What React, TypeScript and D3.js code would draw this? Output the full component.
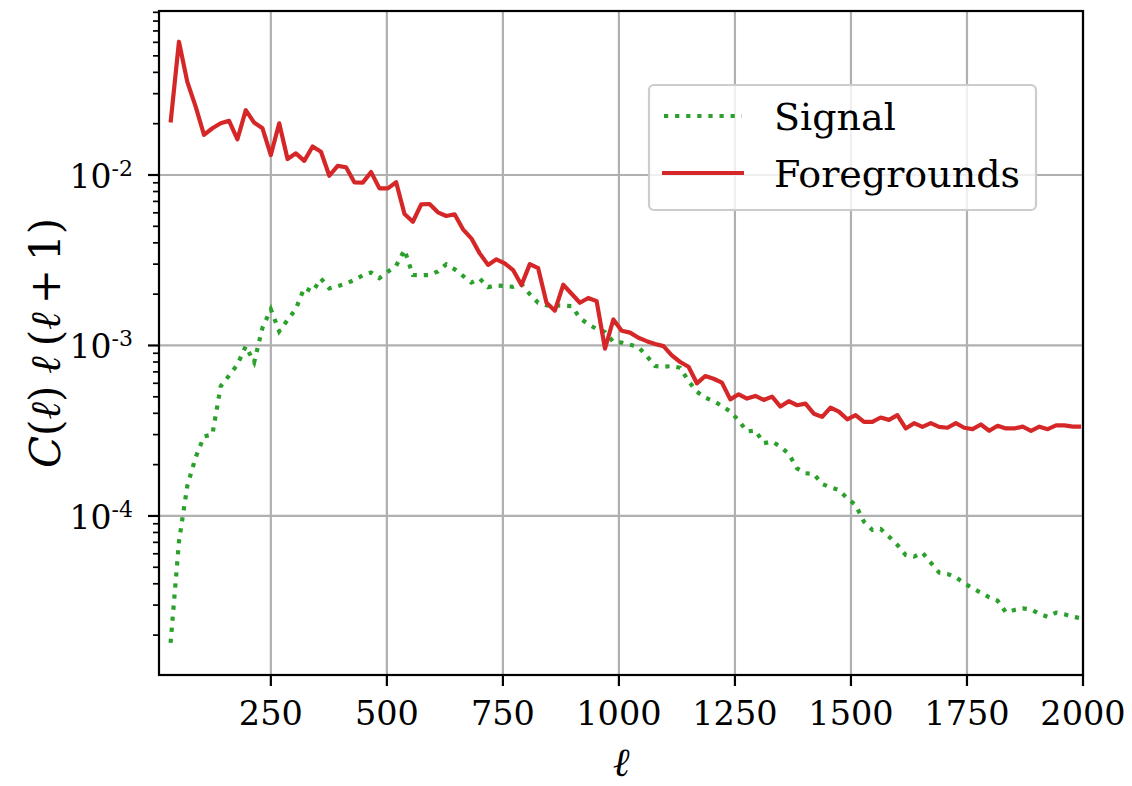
import React from 'react';
import * as d3 from 'd3';

// multipole bins (bin centres)
const ells = [
  34, 52, 70, 88, 106, 124, 142, 160, 178, 196, 214, 232, 250, 268, 286, 304, 322, 340, 358, 376,
  394, 412, 430, 448, 466, 484, 502, 520, 538, 556, 574, 592, 610, 628, 646, 664, 682, 700, 718, 736,
  754, 772, 790, 808, 826, 844, 862, 880, 898, 916, 934, 952, 970, 988, 1006, 1024, 1042, 1060, 1078, 1096,
  1114, 1132, 1150, 1168, 1186, 1204, 1222, 1240, 1258, 1276, 1294, 1312, 1330, 1348, 1366, 1384, 1402, 1420, 1438, 1456,
  1474, 1492, 1510, 1528, 1546, 1564, 1582, 1600, 1618, 1636, 1654, 1672, 1690, 1708, 1726, 1744, 1762, 1780, 1798, 1816,
  1834, 1852, 1870, 1888, 1906, 1924, 1942, 1960, 1978, 1996,
];

const signal = [
  1.8e-5, 7.06e-5, 1.5e-4, 2.21e-4, 2.93e-4, 3.0e-4, 5.77e-4, 6.66e-4, 7.73e-4, 9.9e-4,
  7.97e-4, 1.27e-3, 1.63e-3, 1.21e-3, 1.41e-3, 1.64e-3, 2.18e-3, 2.07e-3, 2.47e-3, 2.16e-3,
  2.23e-3, 2.31e-3, 2.42e-3, 2.58e-3, 2.68e-3, 2.48e-3, 2.71e-3, 2.93e-3, 3.64e-3, 2.59e-3,
  2.58e-3, 2.59e-3, 2.72e-3, 2.99e-3, 2.8e-3, 2.56e-3, 2.34e-3, 2.47e-3, 2.2e-3, 2.25e-3,
  2.23e-3, 2.21e-3, 2.29e-3, 2.0e-3, 1.78e-3, 1.72e-3, 1.72e-3, 1.71e-3, 1.7e-3, 1.45e-3,
  1.33e-3, 1.25e-3, 1.2e-3, 1.05e-3, 1.04e-3, 1.01e-3, 9.8e-4, 8.67e-4, 7.57e-4, 7.5e-4,
  7.57e-4, 7.4e-4, 6.18e-4, 5.36e-4, 4.94e-4, 4.72e-4, 4.42e-4, 4.1e-4, 3.63e-4, 3.13e-4,
  3.17e-4, 2.67e-4, 2.73e-4, 2.55e-4, 2.31e-4, 1.9e-4, 1.78e-4, 1.76e-4, 1.54e-4, 1.47e-4,
  1.42e-4, 1.27e-4, 1.16e-4, 9.26e-5, 8.28e-5, 8.39e-5, 7.56e-5, 6.76e-5, 5.9e-5, 5.77e-5,
  6.1e-5, 5.32e-5, 4.65e-5, 4.57e-5, 4.37e-5, 4.03e-5, 3.76e-5, 3.55e-5, 3.33e-5, 3.18e-5,
  2.72e-5, 2.81e-5, 2.87e-5, 2.83e-5, 2.66e-5, 2.56e-5, 2.71e-5, 2.65e-5, 2.56e-5, 2.51e-5,
];

const foregrounds = [
  0.0203, 0.0605, 0.0352, 0.0252, 0.0172, 0.0188, 0.0201, 0.0208, 0.0162, 0.024,
  0.0203, 0.0188, 0.0131, 0.0201, 0.0124, 0.0134, 0.0121, 0.0147, 0.0137, 0.0099,
  0.0113, 0.0111, 0.00906, 0.00902, 0.0104, 0.00835, 0.00835, 0.00906, 0.0059, 0.00532,
  0.00673, 0.00676, 0.00604, 0.00575, 0.00588, 0.0048, 0.00425, 0.00347, 0.00297, 0.0032,
  0.00303, 0.00277, 0.00226, 0.003, 0.00284, 0.00178, 0.0016, 0.00227, 0.00201, 0.00178,
  0.0019, 0.00182, 0.000957, 0.00142, 0.00122, 0.00119, 0.00111, 0.00106, 0.00102, 0.000991,
  0.000875, 0.0008, 0.00075, 0.0006, 0.000662, 0.000638, 0.000605, 0.000483, 0.000517, 0.000488,
  0.000506, 0.000479, 0.000501, 0.000438, 0.000471, 0.000446, 0.000456, 0.000398, 0.000381, 0.000432,
  0.000409, 0.000369, 0.00039, 0.000356, 0.000356, 0.000378, 0.000366, 0.00039, 0.000326, 0.00035,
  0.000333, 0.00035, 0.000333, 0.000329, 0.00035, 0.000329, 0.000323, 0.000344, 0.000316, 0.000338,
  0.000326, 0.000326, 0.000334, 0.000316, 0.000334, 0.000323, 0.00034, 0.00034, 0.000334, 0.000334,
];

const xTicks = [250, 500, 750, 1000, 1250, 1500, 1750, 2000];
const yTickExps = [-4, -3, -2];

const W = 1132;
const H = 786;
const left = 159, right = 1083, top = 11, bottom = 675;

const GREEN = '#2ca02c';
const RED = '#d62728';
const FONT = '"DejaVu Serif", serif';

export default function App() {
  const x = d3.scaleLinear().domain([9, 2000]).range([left, right]);
  const y = d3.scaleLog().domain([Math.pow(10, -4.933), Math.pow(10, -1.038)]).range([bottom, top]);

  const line = d3
    .line<number>()
    .x((_, i) => x(ells[i]))
    .y((d) => y(d));

  // minor ticks of the log axis
  const minor: number[] = [];
  for (let e = -5; e <= -2; e++) {
    for (let m = 2; m <= 9; m++) {
      const v = m * Math.pow(10, e);
      if (v >= y.domain()[0] && v <= y.domain()[1]) minor.push(v);
    }
  }

  return (
    <svg width={W} height={H} style={{ position: 'absolute', left: 0, top: 0, background: '#fff' }} fontFamily={FONT}>
      <rect x={0} y={0} width={W} height={H} fill="#fff" />
      <defs>
        <clipPath id="plot">
          <rect x={left} y={top} width={right - left} height={bottom - top} />
        </clipPath>
      </defs>

      {/* grid */}
      {xTicks.map((t) => (
        <line key={'gx' + t} x1={x(t)} x2={x(t)} y1={top} y2={bottom} stroke="#b0b0b0" strokeWidth={2.2} />
      ))}
      {yTickExps.map((e) => (
        <line key={'gy' + e} x1={left} x2={right} y1={y(Math.pow(10, e))} y2={y(Math.pow(10, e))} stroke="#b0b0b0" strokeWidth={2.2} />
      ))}

      {/* series */}
      <g clipPath="url(#plot)">
        <path d={line(signal) || ''} fill="none" stroke={GREEN} strokeWidth={4.2} strokeDasharray="4.2 6.9" />
        <path d={line(foregrounds) || ''} fill="none" stroke={RED} strokeWidth={4.2} strokeLinejoin="round" />
      </g>

      {/* spines */}
      <rect x={left} y={top} width={right - left} height={bottom - top} fill="none" stroke="#000" strokeWidth={2.2} />

      {/* x ticks */}
      {xTicks.map((t) => (
        <g key={'xt' + t}>
          <line x1={x(t)} x2={x(t)} y1={bottom} y2={bottom + 11} stroke="#000" strokeWidth={2.2} />
          <text x={x(t)} y={725} textAnchor="middle" fontSize={33.5}>
            {t}
          </text>
        </g>
      ))}

      {/* y ticks */}
      {yTickExps.map((e) => (
        <g key={'yt' + e}>
          <line x1={left - 11} x2={left} y1={y(Math.pow(10, e))} y2={y(Math.pow(10, e))} stroke="#000" strokeWidth={2.2} />
          <text x={133} y={y(Math.pow(10, e)) + 13} textAnchor="end" fontSize={33}>
            10
            <tspan fontSize={22} dy={-12}>
              {'-' + Math.abs(e)}
            </tspan>
          </text>
        </g>
      ))}
      {minor.map((v, i) => (
        <line key={'ym' + i} x1={left - 6} x2={left} y1={y(v)} y2={y(v)} stroke="#000" strokeWidth={1.7} />
      ))}

      {/* axis labels */}
      <text x={621} y={776} textAnchor="middle" fontSize={40} fontStyle="italic">
        ℓ
      </text>
      <text transform={`translate(60, ${(top + bottom) / 2}) rotate(-90)`} textAnchor="middle" fontSize={42}>
        <tspan fontStyle="italic">C</tspan>
        <tspan>(</tspan>
        <tspan fontStyle="italic">ℓ</tspan>
        <tspan>)</tspan>
        <tspan dx={12} fontStyle="italic">ℓ</tspan>
        <tspan dx={10}>(</tspan>
        <tspan fontStyle="italic">ℓ</tspan>
        <tspan dx={8}>+</tspan>
        <tspan dx={8}>1)</tspan>
      </text>

      {/* legend */}
      <g>
        <rect x={649} y={85} width={387} height={125} rx={5} fill="#fff" fillOpacity={0.8} stroke="#cccccc" strokeWidth={2.2} />
        <line x1={664} x2={742} y1={116} y2={116} stroke={GREEN} strokeWidth={4.2} strokeDasharray="4.2 6.9" />
        <text x={774} y={130} fontSize={38}>
          Signal
        </text>
        <line x1={662} x2={744} y1={173} y2={173} stroke={RED} strokeWidth={4.2} />
        <text x={774} y={187} fontSize={38}>
          Foregrounds
        </text>
      </g>
    </svg>
  );
}
